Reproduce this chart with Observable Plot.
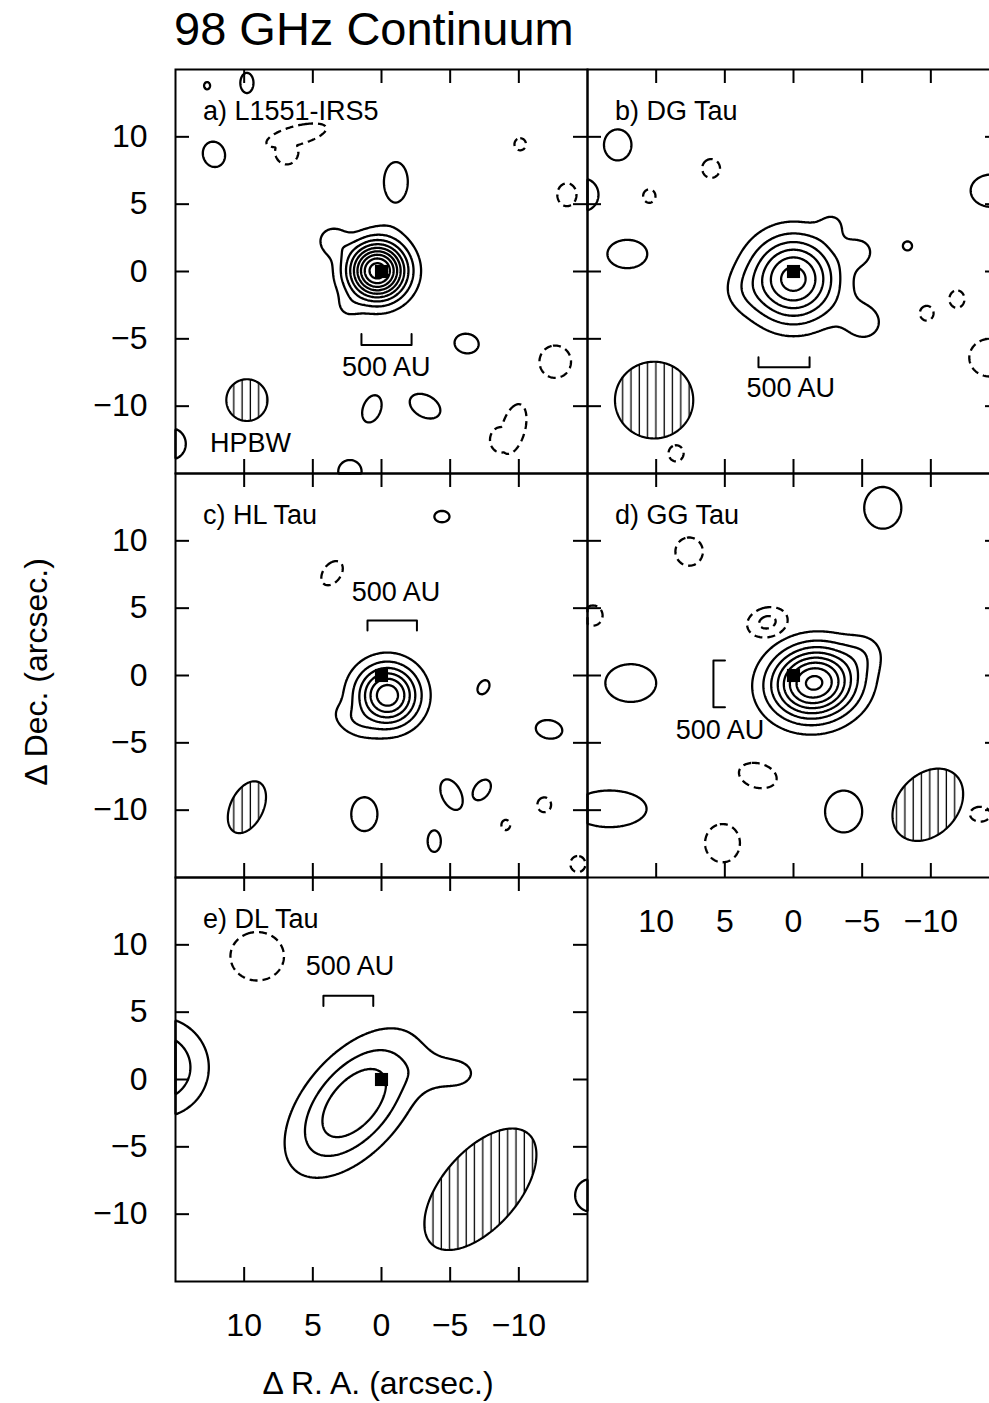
<!DOCTYPE html>
<html><head><meta charset="utf-8">
<script src="https://cdn.jsdelivr.net/npm/d3@7"></script>
<script src="https://cdn.jsdelivr.net/npm/@observablehq/plot@0.6"></script>
<style>
html,body{margin:0;padding:0;background:#fff;}
#page{position:relative;width:989px;height:1403px;overflow:hidden;font-family:"Liberation Sans",Arial,Helvetica,sans-serif;}
</style></head><body>
<svg width="0" height="0" style="position:absolute"><defs>
<pattern id="vhatch" patternUnits="userSpaceOnUse" width="8.3" height="8"><line x1="4" y1="0" x2="4" y2="8" stroke="#000" stroke-width="1.3"/></pattern>
</defs></svg>
<div id="page"></div>
<script>
// ---------- data (arcsec offsets) ----------
const tickValues = [-10, -5, 0, 5, 10];
const posLevels = [1, 2, 3, 4, 5, 6, 7, 8, 9, 10];
const negLevels = [1, 2];
const panelNames = ["a) L1551-IRS5", "b) DG Tau", "c) HL Tau", "d) GG Tau", "e) DL Tau"];
const panelCols = [0, 1, 0, 1, 0];
const panelRows = [0, 0, 1, 1, 2];
const panelLabelPos = [13.0, 11.9];
const barText = "500 AU";
const hpbwText = "HPBW";
const hpbwPos = [12.49, -12.77];

// source components: [x, y, peak (contour units), sigma along PA, sigma across, PA deg]
const sourcesA = [[0.3, 0.05, 9.3, 1.45, 1.45, 0], [0.6, 0.0, 0.4, 2.6, 2.6, 0], [3.6, 2.3, 1.5, 0.8, 0.8, 0], [2.5, -2.7, 0.7, 0.7, 0.7, 0]];
const sourcesB = [[0.0, -0.55, 6.5, 2.2, 2.2, 0], [-5.2, -3.8, 1.3, 1.3, 1.3, 0], [-2.9, 3.6, 0.8, 0.8, 0.8, 0], [-4.9, 1.5, 1.1, 0.9, 0.9, 0], [3.8, -1.5, 0.6, 1.2, 1.2, 0]];
const sourcesC = [[-0.44, -1.48, 6.3, 1.55, 1.55, 0], [-0.2, -1.25, 0.45, 2.6, 2.6, 0], [2.3, -3.4, 1.0, 1.2, 0.75, 58]];
const sourcesD = [[-1.5, -0.55, 8.3, 2.2, 1.85, 100], [-5.3, 1.8, 0.9, 1.1, 1.1, 0], [1.9, 3.95, -2.3, 1.16, 0.85, 105]];
const sourcesE = [[2.0, -1.75, 4, 3.95, 2.17, -40], [-5.6, 0.45, 1.2, 1.3, 1.0, 90], [-3.3, 0.5, 0.5, 1.2, 1.2, 0], [16.3, 0.9, 3.24, 2.43, 2.43, 0]];

// lowest-level islands: [x, y, radius along PA, radius across, PA deg, sign]
const islandsA = [[12.7, 13.8, 0.27, 0.22, 0, 1], [9.8, 14.0, 0.75, 0.48, 0, 1], [12.2, 8.7, 0.95, 0.8, 15, 1], [6.2, 10.1, 2.25, 0.7, -75, -1], [6.9, 8.9, 0.95, 0.85, 0, -1], [-1.05, 6.7, 1.42, 0.85, 0, 1], [-10.1, 9.45, 0.45, 0.42, 0, -1], [-13.5, 5.7, 0.85, 0.7, 0, -1], [-6.2, -5.35, 0.88, 0.72, 80, 1], [-12.65, -6.7, 1.2, 1.15, 0, -1], [0.7, -10.2, 1.05, 0.65, -20, 1], [-3.17, -10.0, 1.2, 0.8, 60, 1], [-9.6, -11.7, 1.9, 0.85, -15, -1], [-8.7, -12.5, 0.95, 0.8, 0, -1], [2.3, -14.85, 0.85, 0.85, 0, 1], [15.3, -12.8, 1.15, 1.05, 0, 1]];
const islandsB = [[12.8, 9.4, 1.15, 1.0, 0, 1], [15.3, 5.7, 1.2, 1.1, 0, 1], [6.0, 7.65, 0.7, 0.65, 0, -1], [10.5, 5.6, 0.5, 0.45, 0, -1], [-14.4, 6.0, 1.2, 1.5, 0, 1], [12.1, 1.3, 1.05, 1.45, 0, 1], [-8.3, 1.9, 0.33, 0.33, 0, 1], [-9.7, -3.1, 0.55, 0.5, 0, -1], [-11.9, -2.05, 0.65, 0.55, 0, -1], [-14.3, -6.4, 1.4, 1.5, 0, -1], [8.55, -13.5, 0.6, 0.55, 0, -1]];
const islandsC = [[-4.4, 11.8, 0.55, 0.42, 90, 1], [3.6, 7.6, 1.0, 0.65, -35, -1], [-7.43, -0.87, 0.55, 0.38, -30, 1], [-12.2, -4.0, 0.97, 0.68, 80, 1], [1.25, -10.3, 1.25, 0.95, 0, 1], [-5.1, -8.85, 1.2, 0.7, 25, 1], [-7.3, -8.5, 0.85, 0.55, -35, 1], [-11.85, -9.6, 0.55, 0.5, 0, -1], [-9.05, -11.1, 0.38, 0.32, 0, -1], [-3.84, -12.3, 0.8, 0.48, 0, 1], [-14.3, -14.0, 0.6, 0.55, 0, -1]];
const islandsD = [[-6.5, 12.45, 1.55, 1.35, 0, 1], [7.6, 9.2, 1.05, 1.0, 0, -1], [14.6, 4.45, 0.75, 0.7, 0, -1], [11.85, -0.56, 1.4, 1.85, 0, 1], [2.6, -7.43, 1.4, 0.9, 75, -1], [13.4, -9.9, 1.36, 2.7, 0, 1], [5.17, -12.45, 1.42, 1.27, 0, -1], [-3.65, -10.1, 1.55, 1.35, 0, 1], [-13.6, -10.3, 0.55, 0.75, 0, -1]];
const islandsE = [[9.05, 9.15, 1.8, 1.95, 0, -1], [-15.2, -8.6, 1.2, 1.1, 0, 1]];

// beams (HPBW): [x, y, semi-axis along PA, semi-axis across, PA deg]
const beamA = [9.8, -9.55, 1.55, 1.5, 0];
const beamB = [10.15, -9.55, 2.85, 2.85, 0];
const beamC = [9.8, -9.78, 2.05, 1.2, -25];
const beamD = [-9.78, -9.6, 3.0, 2.2, -41];
const beamE = [-7.2, -8.15, 5.4, 2.8, -40];

// 500 AU scale bars and their labels
const barA = [[1.46, -4.64], [1.46, -5.46], [-2.19, -5.46], [-2.19, -4.64]];
const barB = [[2.55, -6.37], [2.55, -7.11], [-1.17, -7.11], [-1.17, -6.37]];
const barC = [[1.02, 3.34], [1.02, 4.08], [-2.58, 4.08], [-2.58, 3.34]];
const barD = [[4.99, 1.11], [5.83, 1.11], [5.83, -2.35], [4.99, -2.35]];
const barE = [[4.23, 5.46], [4.23, 6.22], [0.6, 6.22], [0.6, 5.46]];
const barLabelA = [-0.34, -7.13];
const barLabelB = [0.2, -8.71];
const barLabelC = [-1.05, 6.16];
const barLabelD = [5.35, -4.1];
const barLabelE = [2.3, 8.4];
const starPos = [[0, 0]];

// ---------- helpers ----------
const K = Math.sqrt(2 * Math.log(1.3));
function gauss([cx, cy, A, sa, sp, pa]) {
  const t = pa * Math.PI / 180, s = Math.sin(t), c = Math.cos(t), ia = 1 / (sa * sa), ip = 1 / (sp * sp);
  return (x, y) => { const dx = x - cx, dy = y - cy, u = dx * s + dy * c, v = dx * c - dy * s; return A * Math.exp(-0.5 * (u * u * ia + v * v * ip)); };
}
const island = ([cx, cy, ra, rp, pa]) => gauss([cx, cy, 1.3, ra / K, rp / K, pa]);
function fields(sources, islands) {
  const pS = sources.filter(c => c[2] > 0).map(gauss);
  const nS = sources.filter(c => c[2] < 0).map(c => gauss([c[0], c[1], -c[2], c[3], c[4], c[5]]));
  const pI = islands.filter(i => i[5] > 0).map(island);
  const nI = islands.filter(i => i[5] < 0).map(island);
  const make = (S, I) => (x, y) => { let v = 0; for (const g of S) v += g(x, y); let m = 0; for (const g of I) { const w = g(x, y); if (w > m) m = w; } return v + m; };
  return {P: make(pS, pI), N: make(nS, nI)};
}
function ellipseValue([cx, cy, a, b, pa]) {
  const t = pa * Math.PI / 180, s = Math.sin(t), c = Math.cos(t);
  return (x, y) => { const dx = x - cx, dy = y - cy, u = dx * s + dy * c, v = dx * c - dy * s; return 1 - (u * u / (a * a) + v * v / (b * b)); };
}

const panels = [
  {sources: sourcesA, islands: islandsA, beam: beamA, bar: barA, barLabel: barLabelA},
  {sources: sourcesB, islands: islandsB, beam: beamB, bar: barB, barLabel: barLabelB},
  {sources: sourcesC, islands: islandsC, beam: beamC, bar: barC, barLabel: barLabelC},
  {sources: sourcesD, islands: islandsD, beam: beamD, bar: barD, barLabel: barLabelD},
  {sources: sourcesE, islands: islandsE, beam: beamE, bar: barE, barLabel: barLabelE}
].map((p, i) => ({...p, name: panelNames[i], col: panelCols[i], row: panelRows[i]}));

const page = document.getElementById("page");
const W = 412, H = 404, TL = 14;
const FONT = "'Liberation Sans', Arial, Helvetica, sans-serif";
const bounds = {x1: -15, x2: 15, y1: -15, y2: 15};

panels.forEach((p, i) => {
  const yLabels = p.col === 0;
  const xLabels = (p.row === 2) || (p.row === 1 && p.col === 1);
  const ml = yLabels ? 120 : 2, mr = 2, mt = 2, mb = xLabels ? 70 : 2;
  const {P, N} = fields(p.sources, p.islands);
  const marks = [
    Plot.contour({...bounds, value: ellipseValue(p.beam), thresholds: [0], fill: "url(#vhatch)", stroke: "black", strokeWidth: 2.2, pixelSize: 1}),
    Plot.contour({...bounds, value: P, thresholds: posLevels, fill: "none", stroke: "black", strokeWidth: 2.3, pixelSize: 1}),
    Plot.contour({...bounds, value: N, thresholds: negLevels, fill: "none", stroke: "black", strokeWidth: 2.3, strokeDasharray: "8,5", pixelSize: 1}),
    Plot.dot(starPos, {x: d => d[0], y: d => d[1], symbol: "square", r: 7.4, fill: "black", stroke: "none"}),
    Plot.line(p.bar, {x: d => d[0], y: d => d[1], stroke: "black", strokeWidth: 2}),
    Plot.text([p.barLabel], {x: d => d[0], y: d => d[1], text: () => barText, fontSize: 27, textAnchor: "middle", fill: "black"}),
    Plot.text([panelLabelPos], {x: d => d[0], y: d => d[1], text: () => p.name, fontSize: 27, textAnchor: "start", fill: "black"}),
    Plot.ruleX(tickValues, {x: d => d, insetBottom: H - TL, stroke: "black", strokeWidth: 2}),
    Plot.ruleX(tickValues, {x: d => d, insetTop: H - TL, stroke: "black", strokeWidth: 2}),
    Plot.ruleY(tickValues, {y: d => d, insetRight: W - TL, stroke: "black", strokeWidth: 2}),
    Plot.ruleY(tickValues, {y: d => d, insetLeft: W - TL, stroke: "black", strokeWidth: 2}),
    Plot.frame({stroke: "black", strokeWidth: 2})
  ];
  if (i === 0) marks.push(Plot.text([hpbwPos], {x: d => d[0], y: d => d[1], text: () => hpbwText, fontSize: 27, textAnchor: "start", fill: "black"}));
  if (yLabels) marks.push(Plot.axisY({ticks: tickValues, tickSize: 0, tickPadding: 28, fontSize: 32, label: null, fill: "black"}));
  if (xLabels) marks.push(Plot.axisX({ticks: tickValues, anchor: "bottom", tickSize: 0, tickPadding: 32, fontSize: 32, label: null, fill: "black"}));
  const svg = Plot.plot({
    width: W + ml + mr, height: H + mt + mb,
    marginLeft: ml, marginRight: mr, marginTop: mt, marginBottom: mb,
    x: {domain: [-15, 15], reverse: true, axis: null},
    y: {domain: [-15, 15], axis: null},
    style: {fontFamily: FONT, fontSize: "27px", background: "transparent", color: "black"},
    marks
  });
  const left = (p.col === 0 ? 175 : 587) - ml;
  const top = 69 + 404 * p.row - mt;
  svg.style.position = "absolute";
  svg.style.left = left + "px";
  svg.style.top = top + "px";
  svg.style.maxWidth = "none";
  page.appendChild(svg);
});

// titles
const ns = "http://www.w3.org/2000/svg";
const ov = document.createElementNS(ns, "svg");
ov.setAttribute("width", 989); ov.setAttribute("height", 1403);
ov.style.position = "absolute"; ov.style.left = "0px"; ov.style.top = "0px";
ov.innerHTML = `
<text x="174" y="45" font-family="${FONT}" font-size="47" fill="black">98 GHz Continuum</text>
<text x="378" y="1394" text-anchor="middle" font-family="${FONT}" font-size="32" fill="black">Δ R. A. (arcsec.)</text>
<text transform="translate(47,672) rotate(-90)" text-anchor="middle" font-family="${FONT}" font-size="32" fill="black">Δ Dec. (arcsec.)</text>`;
page.insertBefore(ov, page.firstChild);
</script>
</body></html>
